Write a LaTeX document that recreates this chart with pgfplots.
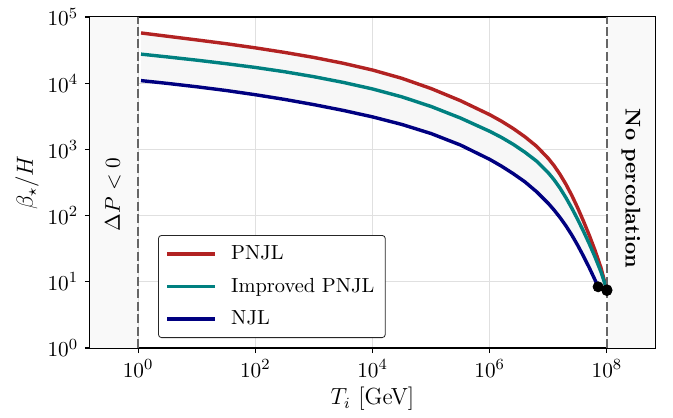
\documentclass[border=0pt]{standalone}
\usepackage{pgfplots}
\pgfplotsset{compat=1.18}
\definecolor{cpnjl}{HTML}{B22222}
\definecolor{cimp}{HTML}{008080}
\definecolor{cnjl}{HTML}{000080}
\definecolor{shade}{HTML}{F7F7F7}
\definecolor{sidefill}{HTML}{F9F9F9}
\definecolor{dashc}{HTML}{666666}
\pgfplotstableread{
x y
1.122 57544
3.162 51286
10 45186
31.62 39628
100 34277
316.2 29242
1000 24547
3162 20045
1e4 15849
3.162e4 11885
1e5 8318
3.162e5 5458
1e6 3350
1.585e6 2673
2.512e6 2075
3.981e6 1556
6.310e6 1117
1e7 731.1
1.259e7 566.2
1.585e7 419.8
1.995e7 298.5
2.512e7 202.8
3.162e7 131.8
3.981e7 82.60
5.012e7 50.23
6.310e7 29.38
7.943e7 16.18
1e8 7.379
}\pnjl
\pgfplotstableread{
x y
1.122 27542
3.162 25000
10 22336
31.62 19770
100 17338
316.2 14928
1000 12560
3162 10304
1e4 8204
3.162e4 6237
1e5 4457
3.162e5 2985
1e6 1879
1.585e6 1521
2.512e6 1197
3.981e6 909.9
6.310e6 665.3
1e7 443.6
1.259e7 346.7
1.585e7 260.0
1.995e7 187.1
2.512e7 130.3
3.162e7 88.10
3.981e7 58.08
5.012e7 37.41
6.310e7 23.39
7.943e7 14.03
1e8 7.568
}\improved
\pgfplotstableread{
x y
1.122 10965
3.162 9954
10 8851
31.62 7780
100 6714
316.2 5702
1000 4753
3162 3890
1e4 3105
3.162e4 2388
1e5 1738
3.162e5 1167
1e6 707.9
1.585e6 559.8
2.512e6 431.5
3.981e6 324.3
6.310e6 229.6
1e7 152.8
1.259e7 121.1
1.585e7 93.54
1.995e7 70.31
2.512e7 51.05
3.162e7 35.81
3.981e7 24.43
5.012e7 16.26
6.310e7 10.54
7.079e7 8.414
}\njl
% band: PNJL forward, NJL backward
\pgfplotstableread{
x y
1.122 57544
3.162 51286
10 45186
31.62 39628
100 34277
316.2 29242
1000 24547
3162 20045
1e4 15849
3.162e4 11885
1e5 8318
3.162e5 5458
1e6 3350
1.585e6 2673
2.512e6 2075
3.981e6 1556
6.310e6 1117
1e7 731.1
1.259e7 566.2
1.585e7 419.8
1.995e7 298.5
2.512e7 202.8
3.162e7 131.8
3.981e7 82.60
5.012e7 50.23
6.310e7 29.38
7.943e7 16.18
1e8 7.379
7.079e7 8.414
6.310e7 10.54
5.012e7 16.26
3.981e7 24.43
3.162e7 35.81
2.512e7 51.05
1.995e7 70.31
1.585e7 93.54
1.259e7 121.1
1e7 152.8
6.310e6 229.6
3.981e6 324.3
2.512e6 431.5
1.585e6 559.8
1e6 707.9
3.162e5 1167
1e5 1738
3.162e4 2388
1e4 3105
3162 3890
1000 4753
316.2 5702
100 6714
31.62 7780
10 8851
3.162 9954
1.122 10965
}\band
\begin{document}
\begin{tikzpicture}
\begin{axis}[
  at={(0,0)}, anchor=south west,
  scale only axis, width=289.7bp, height=169.7bp,
  xmode=log, ymode=log,
  xmin=0.151, xmax=6.6e8,
  ymin=1, ymax=1e5,
  xtick={1,1e2,1e4,1e6,1e8},
  ytick={1,10,100,1000,1e4,1e5},
  xminorticks=false, yminorticks=false,
  tick pos=left, tick align=outside,
  major tick length=2.6bp,
  tick style={black, line width=0.6bp},
  axis line style={line width=1.05bp},
  grid=major,
  major grid style={black!12, line width=0.42bp},
  ticklabel style={font=\fontsize{10.95}{13}\selectfont},
  label style={font=\fontsize{12}{14}\selectfont},
  xlabel={$T_i$ [GeV]},
  ylabel={$\beta_\star/H$},
  xlabel style={at={(axis description cs:0.5,-0.154)}, anchor=center},
  ylabel style={at={(axis description cs:-0.1115,0.5)}, anchor=center},
  legend style={at={(axis description cs:0.1204,0.0302)}, anchor=south west,
    font=\fontsize{10.5}{12.5}\selectfont, draw=black!85, line width=0.42bp,
    rounded corners=1.6bp, fill=white, inner xsep=3.6bp, inner ysep=3.2bp,
    row sep=4bp},
  legend cell align=left,
  /tikz/every odd column/.append style={column sep=5.4bp},
  legend image code/.code={\draw[#1, line width=1.75bp] (0bp,0bp) -- (24.6bp,0bp);},
]
% side shaded regions
\addplot[draw=none, fill=sidefill, forget plot] coordinates {(0.151,1) (1,1) (1,1e5) (0.151,1e5)};
\addplot[draw=none, fill=sidefill, forget plot] coordinates {(1e8,1) (6.6e8,1) (6.6e8,1e5) (1e8,1e5)};
% band between PNJL and NJL
\addplot[draw=none, fill=shade, forget plot] table[x=x, y=y] {\band};

\addplot[cpnjl, line width=1.75bp, line join=round] table[x=x, y=y] {\pnjl};
\addlegendentry{PNJL}
\addplot[cimp, line width=1.75bp, line join=round] table[x=x, y=y] {\improved};
\addlegendentry{Improved PNJL}
\addplot[cnjl, line width=1.75bp, line join=round] table[x=x, y=y] {\njl};
\addlegendentry{NJL}

\addplot[dashc, line width=1.3bp, dash pattern=on 4.6bp off 1.8bp, forget plot] coordinates {(1,1) (1,1e5)};
\addplot[dashc, line width=1.3bp, dash pattern=on 4.6bp off 1.8bp, forget plot] coordinates {(1e8,1) (1e8,1e5)};

\addplot[only marks, mark=*, mark size=2.6bp, black, forget plot] coordinates {(7.079e7,8.414) (1e8,7.568) (1e8,7.379)};

\node[rotate=90, font=\fontsize{10.95}{13}\selectfont] at (axis cs:0.372,209) {$\Delta P<0$};
\node[rotate=-90, font=\fontsize{10.95}{13}\selectfont\bfseries] at (axis cs:2.57e8,257) {No percolation};
\end{axis}
\path (-46.15bp,-35.38bp) rectangle (298.97bp,178.46bp);
\end{tikzpicture}
\end{document}
